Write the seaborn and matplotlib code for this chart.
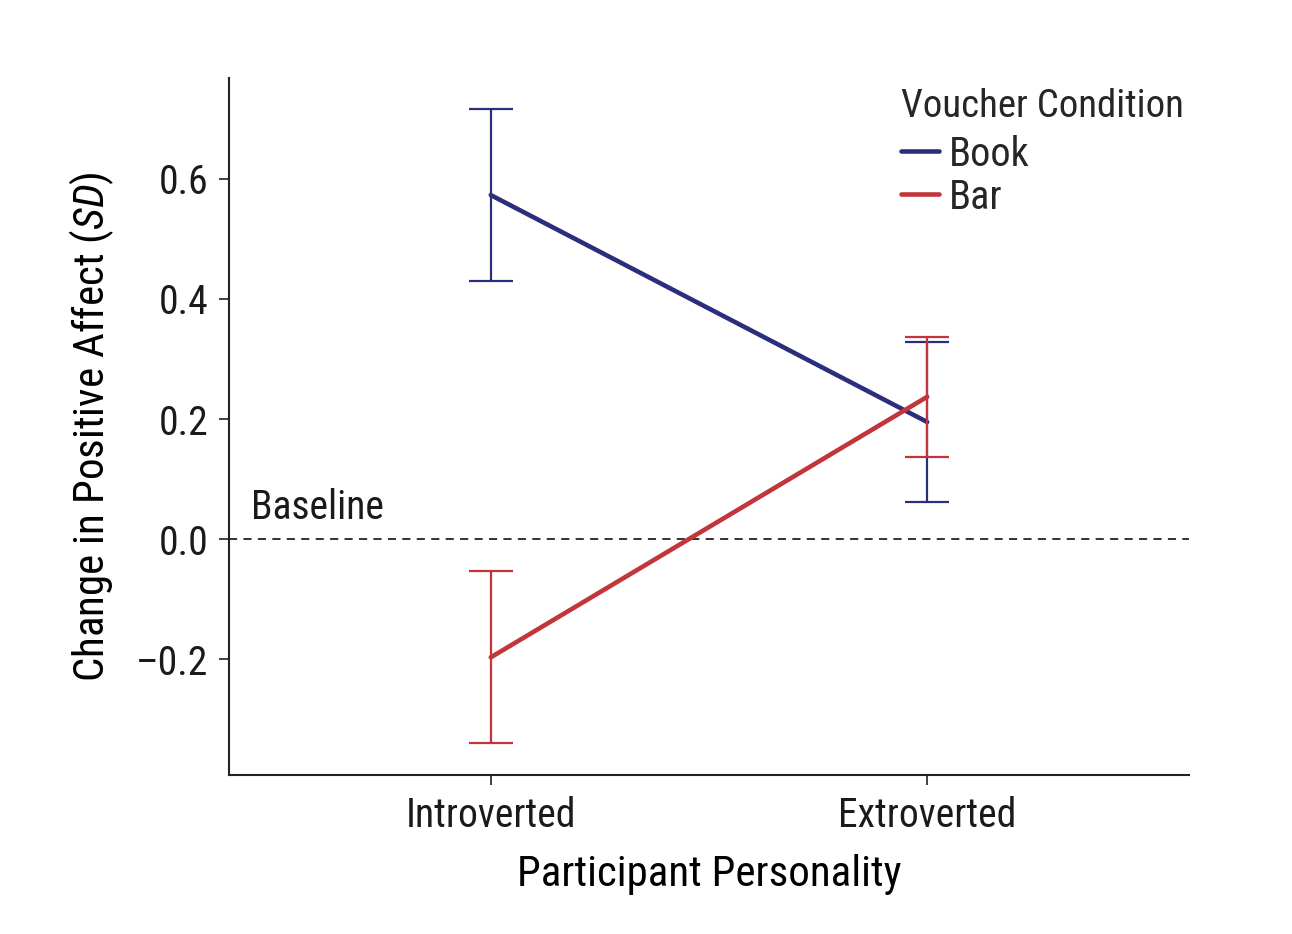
import numpy as np
import pandas as pd
import matplotlib
matplotlib.use('Agg')
import matplotlib.pyplot as plt
import seaborn as sns
from matplotlib import font_manager

# data
personality = ['Introverted', 'Extroverted']
book_mean = [0.573, 0.195]
book_low = [0.430, 0.061]
book_high = [0.716, 0.329]
bar_mean = [-0.197, 0.237]
bar_low = [-0.340, 0.137]
bar_high = [-0.053, 0.337]
conditions = ['Book', 'Bar']
yticks = [-0.2, 0.0, 0.2, 0.4, 0.6]
ytick_labels = ['\u20130.2', '0.0', '0.2', '0.4', '0.6']

colors = {'Book': '#2b2e7c', 'Bar': '#c2353a'}

df = pd.DataFrame({
    'Personality': personality * 2,
    'Condition': ['Book'] * 2 + ['Bar'] * 2,
    'Change': book_mean + bar_mean,
    'low': book_low + bar_low,
    'high': book_high + bar_high,
})

sns.set_style('ticks')

# pick a condensed face if one is around
names = {f.name for f in font_manager.fontManager.ttflist}
fam, scale = 'Liberation Sans', 0.9
for cand in ['Roboto Condensed', 'Liberation Sans Narrow', 'Open Sans Condensed']:
    if cand in names:
        fam, scale = cand, 1.0
        break
plt.rcParams['font.family'] = [fam, 'DejaVu Sans']
plt.rcParams['mathtext.fontset'] = 'custom'
plt.rcParams['mathtext.rm'] = fam
plt.rcParams['mathtext.it'] = fam + ':italic'

fig = plt.figure(figsize=(12.92, 9.34), dpi=100)
ax = fig.add_axes([0.1772, 0.1702, 0.7431, 0.7463])

sns.lineplot(data=df, x='Personality', y='Change', hue='Condition', hue_order=conditions,
             palette=colors, linewidth=3.3, ax=ax, sort=False, errorbar=None)

for cond in conditions:
    sub = df[df['Condition'] == cond]
    yerr = [sub['Change'] - sub['low'], sub['high'] - sub['Change']]
    ax.errorbar(sub['Personality'], sub['Change'], yerr=yerr, fmt='none',
                ecolor=colors[cond], elinewidth=1.6, capsize=16, capthick=1.6, zorder=3)

ax.axhline(0, color='#222222', linestyle=(0, (4.5, 3.5)), linewidth=1.3, zorder=1)
ax.text(-0.55, 0.02, 'Baseline', fontsize=28.5 * scale, ha='left', va='bottom', color='#1a1a1a')

ax.set_xlim(-0.6, 1.6)
ax.set_ylim(-0.393, 0.768)
ax.set_yticks(yticks)
ax.set_yticklabels(ytick_labels)
ax.tick_params(labelsize=28.5 * scale, length=7, width=1.3, colors='#333333', labelcolor='#1a1a1a', pad=8)
ax.set_xlabel('Participant Personality', fontsize=31 * scale, labelpad=14, color='black')
ax.set_ylabel('Change in Positive Affect ($\\mathit{SD}$)', fontsize=31 * scale, labelpad=14, color='black')
sns.despine(ax=ax)
for s in ['left', 'bottom']:
    ax.spines[s].set_linewidth(1.5)
    ax.spines[s].set_color('#222222')

leg = ax.legend(title='Voucher Condition', loc='upper left', bbox_to_anchor=(0.683, 1.009),
                frameon=False, fontsize=29 * scale, title_fontsize=28 * scale, handlelength=0.95,
                handletextpad=0.25, labelspacing=0.1, borderaxespad=0)
leg._legend_box.align = 'left'
leg._legend_box.sep = 7
for line in leg.get_lines():
    line.set_linewidth(3.3)

fig.savefig('out.png', dpi=100)
